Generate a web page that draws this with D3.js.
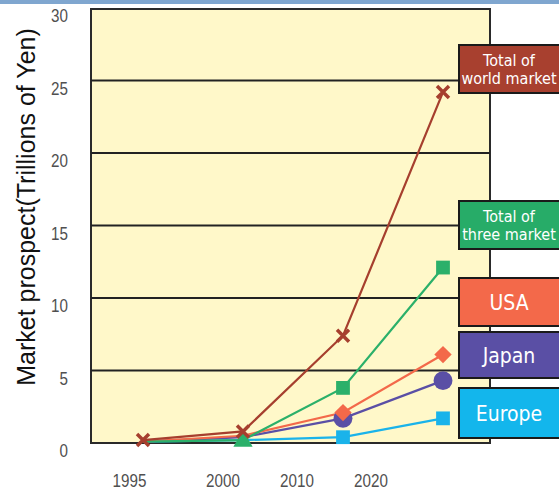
<!DOCTYPE html>
<html><head><meta charset="utf-8">
<script src="https://cdn.jsdelivr.net/npm/d3@7"></script>
<style>body{margin:0;background:#fff;}svg{display:block;font-family:"Liberation Sans",Arial,sans-serif;}</style>
</head><body>
<script>
const periods = ["P1","P2","P3","P4"];
const world = [0.2, 0.8, 7.4, 24.2];
const three = [0.1, 0.2, 3.8, 12.1];
const usa = [0.1, 0.5, 2.1, 6.1];
const japan = [0.1, 0.4, 1.7, 4.3];
const europe = [0.1, 0.2, 0.4, 1.7];
const yTicks = [0, 5, 10, 15, 20, 25, 30];
const xTickYears = [1995, 2000, 2010, 2020];
const seriesNames = ["Total of\nworld market", "Total of\nthree market", "USA", "Japan", "Europe"];

(function () {
const W = 559, H = 499;
const svg = d3.select("body").append("svg").attr("width", W).attr("height", H);
const narrow = "'DejaVu Sans Condensed',sans-serif";

const pL = 91, pR = 490, pT = 8, pB = 443;
const y = d3.scaleLinear().domain([0, 30]).range([pB, pT]);
const x = d3.scalePoint().domain(periods).range([143, 443]);
const xt = d3.scaleLinear().domain(xTickYears).range([129.5, 223, 297, 371]);

// top band
svg.append("rect").attr("x", 0).attr("y", 0).attr("width", W).attr("height", 4).attr("fill", "#7fa6cf");

// plot bg
svg.append("rect").attr("x", pL + 1).attr("y", 10).attr("width", pR - pL).attr("height", pB - 10 + 1)
  .attr("fill", "#c8c8c8");
svg.append("rect").attr("x", pL).attr("y", 9).attr("width", pR - pL).attr("height", pB - 9)
  .attr("fill", "#fff8c9").attr("stroke", "#2a2a2a").attr("stroke-width", 2);

// gridlines
svg.append("g").selectAll("line").data(yTicks.filter(d => d > 0 && d < 30)).join("line")
  .attr("x1", pL).attr("x2", pR).attr("y1", d => y(d)).attr("y2", d => y(d))
  .attr("stroke", "#222").attr("stroke-width", 2);

// y tick labels
svg.append("g").selectAll("text").data(yTicks).join("text")
  .attr("transform", d => `translate(68,${y(d) + 14}) scale(0.8,1)`).attr("text-anchor", "end")
  .attr("font-size", 19).attr("fill", "#505050")
  .text(d => d);

// x tick labels
svg.append("g").selectAll("text").data(xTickYears).join("text")
  .attr("transform", d => `translate(${xt(d)},487) scale(0.8,1)`).attr("text-anchor", "middle")
  .attr("font-size", 19).attr("fill", "#505050").text(d => d);

// y title
svg.append("text").attr("transform", `translate(35,${207}) rotate(-90)`)
  .attr("text-anchor", "middle").attr("font-size", 25).attr("fill", "#111")
  .text("Market prospect(Trillions of Yen)");

const series = [
  {vals: europe, color: "#1ab3ea", marker: "square"},
  {vals: japan, color: "#5a4fa5", marker: "circle"},
  {vals: usa, color: "#f3694a", marker: "diamond"},
  {vals: three, color: "#2bb06a", marker: "square"},
  {vals: world, color: "#a63f2e", marker: "x"}
];
const line = d3.line().x((d, i) => x(periods[i])).y(d => y(d));
const g = svg.append("g");
series.forEach(s => {
  g.append("path").attr("d", line(s.vals)).attr("fill", "none").attr("stroke", s.color).attr("stroke-width", 2.2);
});
const sym = {square: d3.symbolSquare, circle: d3.symbolCircle, diamond: d3.symbolSquare, triangle: d3.symbolTriangle};
const size = {square: 190, circle: 280, diamond: 150, triangle: 160};
series.forEach(s => {
  s.vals.forEach((v, i) => {
    if (s.marker === "x") {
      const cx = x(periods[i]), cy = y(v), r = 6;
      g.append("path").attr("d", `M${cx - r},${cy - r}L${cx + r},${cy + r}M${cx - r},${cy + r}L${cx + r},${cy - r}`)
        .attr("stroke", s.color).attr("stroke-width", 3.5);
    } else if (i >= 2) {
      g.append("path").attr("d", d3.symbol().type(sym[s.marker]).size(size[s.marker])())
        .attr("transform", `translate(${x(periods[i])},${y(v)})` + (s.marker === "diamond" ? " rotate(45)" : ""))
        .attr("fill", s.color);
    } else if (i === 1 && s === series[3]) {
      g.append("path").attr("d", d3.symbol().type(sym.triangle).size(size.triangle)())
        .attr("transform", `translate(${x(periods[i])},${y(v) + 1})`).attr("fill", s.color);
    }
  });
});

// legend boxes
const boxes = [
  {name: seriesNames[0], color: "#a8402f", y0: 45, y1: 93, fs: 16},
  {name: seriesNames[1], color: "#27ac68", y0: 201, y1: 249, fs: 16},
  {name: seriesNames[2], color: "#f3694a", y0: 278, y1: 326, fs: 21},
  {name: seriesNames[3], color: "#5a4fa5", y0: 332, y1: 378, fs: 21},
  {name: seriesNames[4], color: "#13b6ec", y0: 388, y1: 438, fs: 21}
];
const lg = svg.append("g");
boxes.forEach(b => {
  lg.append("rect").attr("x", 459).attr("y", b.y0).attr("width", 110).attr("height", b.y1 - b.y0)
    .attr("fill", b.color).attr("stroke", "#1a1a1a").attr("stroke-width", 2);
  const lines = b.name.split("\n");
  const cy = (b.y0 + b.y1) / 2;
  lines.forEach((t, i) => {
    lg.append("text").attr("x", 509).attr("y", cy + (i - (lines.length - 1) / 2) * 18 + b.fs * 0.36)
      .attr("text-anchor", "middle").attr("font-size", b.fs).attr("fill", "#fff")
      .attr("font-family", narrow)
      .text(t);
  });
});
})();
</script>
</body></html>
